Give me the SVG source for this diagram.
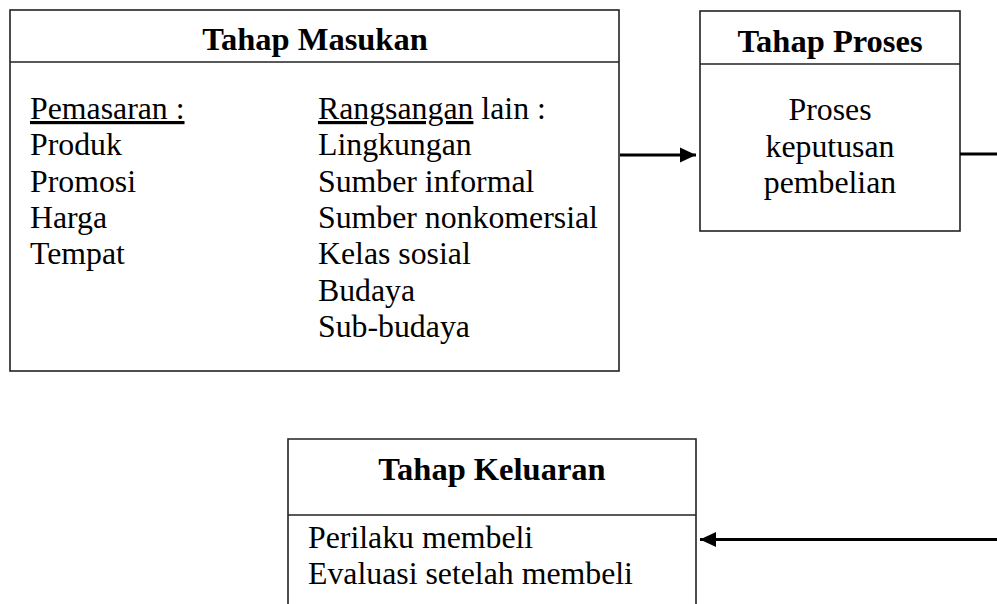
<svg xmlns="http://www.w3.org/2000/svg" width="997" height="604" viewBox="0 0 997 604">
<style>
.box{fill:#fff;stroke:#222;stroke-width:1.6}
.div{stroke:#222;stroke-width:1.6}
text{font-family:"Liberation Serif","Times New Roman",serif;font-size:31.8px;fill:#000}
.t{font-weight:bold;text-anchor:middle;font-size:32.5px}
.c{text-anchor:middle}
.conn{stroke:#000;stroke-width:2.8;fill:none}
</style>
<defs>
<marker id="ah" markerWidth="16" markerHeight="16" viewBox="0 0 16 16" refX="16" refY="8" orient="auto" markerUnits="userSpaceOnUse">
<path d="M0,0.5 L16,8 L0,15.5 Z" fill="#000"/>
</marker>
</defs>
<rect width="997" height="604" fill="#fff"/>
<g id="masukan">
<rect class="box" x="10" y="10" width="609" height="361"/>
<line class="div" x1="10" y1="62" x2="619" y2="62"/>
<text class="t" x="315" y="50">Tahap Masukan</text>
<text x="30" y="119" text-decoration="underline">Pemasaran :</text>
<text x="30" y="155.3">Produk</text>
<text x="30" y="191.6">Promosi</text>
<text x="30" y="228">Harga</text>
<text x="30" y="264.3">Tempat</text>
<text x="318" y="119"><tspan text-decoration="underline">Rangsangan</tspan> lain :</text>
<text x="318" y="155.3">Lingkungan</text>
<text x="318" y="191.6">Sumber informal</text>
<text x="318" y="228">Sumber nonkomersial</text>
<text x="318" y="264.3">Kelas sosial</text>
<text x="318" y="300.6">Budaya</text>
<text x="318" y="336.8">Sub-budaya</text>
</g>
<g id="proses">
<rect class="box" x="700" y="11" width="260" height="220"/>
<line class="div" x1="700" y1="64" x2="960" y2="64"/>
<text class="t" x="830" y="52">Tahap Proses</text>
<text class="c" x="830" y="120">Proses</text>
<text class="c" x="830" y="156.5">keputusan</text>
<text class="c" x="830" y="193">pembelian</text>
</g>
<g id="keluaran">
<path class="box" d="M288,604 L288,439 L696,439 L696,604"/>
<line class="div" x1="288" y1="515" x2="696" y2="515"/>
<text class="t" x="492" y="480">Tahap Keluaran</text>
<text x="308" y="548">Perilaku membeli</text>
<text x="308" y="584">Evaluasi setelah membeli</text>
</g>
<g id="connectors">
<line class="conn" x1="620" y1="155" x2="696" y2="155" marker-end="url(#ah)"/>
<line class="conn" x1="960" y1="154" x2="997" y2="154"/>
<line class="conn" x1="997" y1="539.5" x2="700" y2="539.5" marker-end="url(#ah)"/>
</g>
</svg>
